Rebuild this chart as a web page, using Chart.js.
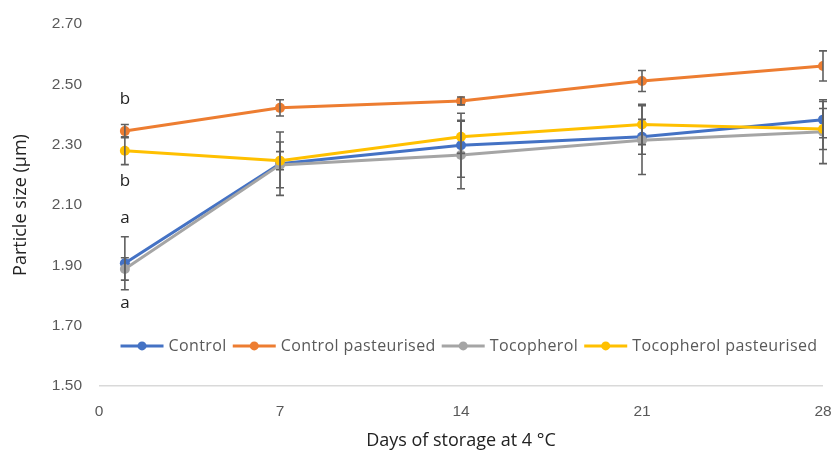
<!DOCTYPE html>
<html><head><meta charset="utf-8">
<script src="https://cdn.jsdelivr.net/npm/chart.js@4.4.1/dist/chart.umd.min.js"></script>
<style>html,body{margin:0;padding:0;background:#fff;}#wrap{width:833px;height:456px;}</style>
</head><body><div id="wrap"><canvas id="c" width="833" height="456"></canvas></div>
<script>
const days = [1, 7, 14, 21, 28];
const xTicks = [0, 7, 14, 21, 28];
const seriesNames = ["Control", "Control pasteurised", "Tocopherol", "Tocopherol pasteurised"];
const control = [1.907, 2.237, 2.298, 2.326, 2.383];
const controlPast = [2.345, 2.422, 2.445, 2.511, 2.561];
const tocopherol = [1.888, 2.233, 2.266, 2.315, 2.343];
const tocopherolPast = [2.280, 2.247, 2.326, 2.367, 2.352];
const controlErr = [0.088, 0.105, 0.106, 0.058, 0.06];
const controlPastErr = [0.022, 0.027, 0.013, 0.035, 0.05];
const tocopherolErr = [0.037, 0.076, 0.112, 0.114, 0.106];
const tocopherolPastErr = [0.046, 0.03, 0.055, 0.067, 0.068];
const letters = ["b", "b", "a", "a"];
const letterY = [2.452, 2.178, 2.055, 1.774];
const letterX = 1;
const colors = ["#4472C4", "#ED7D31", "#A5A5A5", "#FFC000"];

const vals = [control, controlPast, tocopherol, tocopherolPast];
const errs = [controlErr, controlPastErr, tocopherolErr, tocopherolPastErr];

const datasets = vals.map((v, i) => ({
  label: seriesNames[i],
  data: days.map((d, j) => ({x: d, y: v[j]})),
  borderColor: colors[i],
  backgroundColor: colors[i],
  borderWidth: 3,
  pointRadius: 5,
  pointBorderWidth: 0,
  pointBackgroundColor: colors[i],
  tension: 0,
  order: 4 - i,
  errors: errs[i]
}));

const extras = {
  id: 'extras',
  afterDatasetsDraw(chart) {
    const ctx = chart.ctx, xs = chart.scales.x, ys = chart.scales.y;
    ctx.save();
    ctx.strokeStyle = '#5f5f5f';
    ctx.lineWidth = 1.6;
    chart.data.datasets.forEach(ds => {
      ds.data.forEach((p, j) => {
        const e = ds.errors[j];
        const px = xs.getPixelForValue(p.x);
        const top = ys.getPixelForValue(p.y + e), bot = ys.getPixelForValue(p.y - e);
        ctx.beginPath();
        ctx.moveTo(px, top); ctx.lineTo(px, bot);
        ctx.moveTo(px - 4, top); ctx.lineTo(px + 4, top);
        ctx.moveTo(px - 4, bot); ctx.lineTo(px + 4, bot);
        ctx.stroke();
      });
    });
    // letters
    ctx.fillStyle = '#222';
    ctx.font = '17px "Open Sans", sans-serif';
    ctx.textAlign = 'center';
    ctx.textBaseline = 'middle';
    letters.forEach((l, i) => {
      ctx.fillText(l, xs.getPixelForValue(letterX), ys.getPixelForValue(letterY[i]));
    });
    // legend inside plot
    const legendY = ys.getPixelForValue(1.633);
    ctx.font = '16px "Open Sans", sans-serif';
    try { ctx.letterSpacing = '0.4px'; } catch (e) {}
    ctx.textAlign = 'left';
    const sampleW = 43, gapAfterSample = 5, gapItem = 6;
    let widths = chart.data.datasets.map(ds => sampleW + gapAfterSample + ctx.measureText(ds.label).width);
    let total = widths.reduce((a, b) => a + b, 0) + gapItem * (widths.length - 1);
    let x = (chart.chartArea.left + chart.chartArea.right) / 2 - total / 2 + 8;
    chart.data.datasets.forEach((ds, i) => {
      ctx.strokeStyle = ds.borderColor;
      ctx.lineWidth = 3;
      ctx.beginPath(); ctx.moveTo(x, legendY); ctx.lineTo(x + sampleW, legendY); ctx.stroke();
      ctx.fillStyle = ds.borderColor;
      ctx.beginPath(); ctx.arc(x + sampleW / 2, legendY, 4.5, 0, Math.PI * 2); ctx.fill();
      ctx.fillStyle = '#595959';
      ctx.fillText(ds.label, x + sampleW + gapAfterSample, legendY + 1);
      x += widths[i] + gapItem;
    });
    ctx.restore();
  }
};

new Chart(document.getElementById('c'), {
  type: 'line',
  data: { datasets },
  plugins: [extras],
  options: {
    responsive: false,
    animation: false,
    layout: { padding: { top: 24, right: 10, left: 0, bottom: 0 } },
    plugins: { legend: { display: false }, tooltip: { enabled: false } },
    scales: {
      x: {
        type: 'linear', min: 0, max: 28,
        afterBuildTicks(s) { s.ticks = xTicks.map(v => ({value: v})); },
        afterFit(s) { s.height = 70; s.paddingRight = 0; s.paddingLeft = 0; },
        grid: { display: false, drawTicks: false },
        border: { display: false },
        ticks: { color: '#595959', font: { size: 15.5, family: '"Liberation Sans", sans-serif' }, padding: 16, maxRotation: 0 },
        title: { display: true, text: 'Days of storage at 4 °C', color: '#222', font: { size: 18, family: '"Open Sans", sans-serif' }, padding: { top: 11 } }
      },
      y: {
        min: 1.5, max: 2.7,
        ticks: { stepSize: 0.2, color: '#595959', font: { size: 15.5, family: '"Liberation Sans", sans-serif' }, padding: 17, callback: v => v.toFixed(2) },
        afterFit(s) { s.width = 99; s.paddingTop = 0; s.paddingBottom = 0; },
        grid: { display: true, drawTicks: false, color: c => c.tick && Math.abs(c.tick.value - 1.5) < 1e-6 ? '#D9D9D9' : 'rgba(0,0,0,0)', lineWidth: 1.5 },
        border: { display: false },
        title: { display: true, text: 'Particle size (µm)', color: '#222', font: { size: 18, family: '"Open Sans", sans-serif' }, padding: { top: 10, bottom: 0 } }
      }
    }
  }
});
</script></body></html>
